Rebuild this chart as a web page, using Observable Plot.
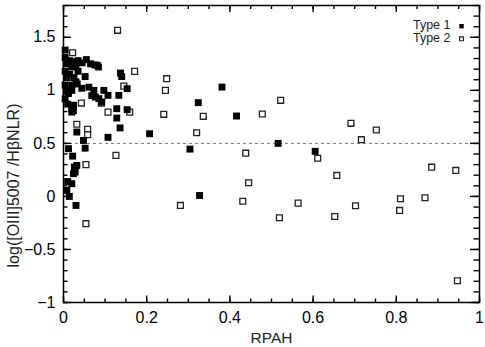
<!DOCTYPE html>
<html><head><meta charset="utf-8">
<script src="https://cdn.jsdelivr.net/npm/d3@7"></script>
<script src="https://cdn.jsdelivr.net/npm/@observablehq/plot@0.6"></script>
<style>
body{margin:0;background:#fff}
svg{font-family:"Liberation Sans",Arial,Helvetica,sans-serif}
</style>
</head><body><div id="chart"></div>
<script>
// Type 1 (filled squares): RPAH and log([OIII]5007/HβNLR)
const type1RPAH = [0.004,0.004,0.006,0.004,0.008,0.004,0.006,0.004,0.010,
  0.015,0.020,0.025,0.030,0.035,0.045,0.055,0.065,0.075,0.084,
  0.015,0.025,0.030,0.020,0.035,0.052,
  0.020,0.033,0.044,0.012,
  0.061,0.073,0.097,0.068,0.077,0.085,0.092,0.107,0.133,0.153,0.137,0.140,0.081,
  0.024,0.020,0.020,0.024,
  0.128,0.153,0.128,0.136,0.207,0.107,0.032,
  0.048,0.052,0.012,0.022,0.026,0.032,0.028,0.024,0.010,0.020,0.008,0.014,0.030,
  0.304,0.324,0.327,0.381,0.416,0.516,0.605];
const type1Ratio = [1.38,1.31,1.25,1.18,1.12,1.05,0.99,0.92,0.87,
  1.28,1.22,1.27,1.24,1.28,1.26,1.29,1.25,1.24,1.22,
  1.15,1.12,1.08,1.05,1.18,1.13,
  1.00,1.06,1.02,0.97,
  1.03,1.00,1.00,0.95,0.937,0.922,0.89,0.953,0.953,1.016,1.163,1.13,1.236,
  0.86,0.83,0.795,0.81,
  0.827,0.818,0.739,0.646,0.591,0.557,0.607,
  0.528,0.455,0.45,0.38,0.277,0.292,0.23,0.214,0.14,0.12,0.057,0.0,-0.085,
  0.446,0.884,0.009,1.031,0.758,0.50,0.425];
// Type 2 (open squares)
const type2RPAH = [0.022,0.130,0.171,0.248,0.245,0.145,0.043,0.091,0.159,0.107,0.241,
  0.032,0.058,0.058,0.126,0.054,0.054,0.281,
  0.336,0.478,0.522,0.320,0.438,0.611,0.691,0.716,0.752,0.657,0.445,0.431,
  0.564,0.519,0.652,0.702,0.810,0.808,0.869,0.885,0.943,0.947];
const type2Ratio = [1.355,1.566,1.179,1.110,1.0,1.04,0.88,0.88,0.795,0.795,0.774,
  0.68,0.632,0.582,0.387,0.30,-0.257,-0.085,
  0.755,0.777,0.906,0.60,0.408,0.36,0.689,0.535,0.626,0.198,0.129,-0.045,
  -0.063,-0.201,-0.189,-0.088,-0.022,-0.132,-0.012,0.276,0.245,-0.795];

const xMajor = [0,0.2,0.4,0.6,0.8,1];
const xMinor = d3.range(0,1.0001,0.05);
const yMajor = [-1,-0.5,0,0.5,1,1.5];
const yMinor = d3.range(-1,1.8001,0.1);
const xDomain = [0,1];
const yDomain = [-1,1.8];
const refLine = [0.5];
const legendLabels = ["Type 1","Type 2"];

const type1 = type1RPAH.map((x,i)=>({x, y:type1Ratio[i]}));
const type2 = type2RPAH.map((x,i)=>({x, y:type2Ratio[i]}));
const fmt = d => d === 0 ? "0" : String(d).replace("-","\u2212");

const W = 485, H = 347, mL = 63, mR = 6, mT = 5, mB = 45;
const FH = H - mT - mB, FW = W - mL - mR;
// pixel length -> data length along each axis (for inward tick rules)
const lenY = L => L * (yDomain[1]-yDomain[0]) / FH;
const lenX = L => L * (xDomain[1]-xDomain[0]) / FW;
const tickB = (t, L) => Plot.ruleX(t,{x:d=>d, y1:yDomain[0], y2:yDomain[0]+lenY(L), stroke:"black", strokeWidth:1.4});
const tickT = (t, L) => Plot.ruleX(t,{x:d=>d, y1:yDomain[1], y2:yDomain[1]-lenY(L), stroke:"black", strokeWidth:1.4});
const tickL = (t, L) => Plot.ruleY(t,{y:d=>d, x1:xDomain[0], x2:xDomain[0]+lenX(L), stroke:"black", strokeWidth:1.4});
const tickR = (t, L) => Plot.ruleY(t,{y:d=>d, x1:xDomain[1], x2:xDomain[1]-lenX(L), stroke:"black", strokeWidth:1.4});

const chart = Plot.plot({
  width:W, height:H,
  marginLeft:mL, marginRight:mR, marginTop:mT, marginBottom:mB,
  x:{domain:xDomain, axis:null},
  y:{domain:yDomain, axis:null},
  style:{fontFamily:'"Liberation Sans",Arial,sans-serif', fontSize:"16px", color:"black", background:"white"},
  marks:[
    Plot.ruleY(refLine,{stroke:"#777", strokeWidth:1, strokeDasharray:"3,3"}),
    tickB(xMinor,3.5), tickT(xMinor,4),
    tickL(yMinor,4.5), tickR(yMinor,5.5),
    tickB(xMajor,6.5), tickT(xMajor,7),
    tickL(yMajor,8), tickR(yMajor,9),
    // labels
    Plot.axisX(xMajor,{anchor:"bottom", tickSize:0, tickPadding:9, tickFormat:fmt, label:null, fontSize:16}),
    Plot.axisY(yMajor,{anchor:"left", tickSize:0, tickPadding:8, tickFormat:fmt, label:null, fontSize:16}),
    Plot.text(["RPAH"],{frameAnchor:"bottom", dy:36, textAnchor:"middle", lineAnchor:"middle", fontSize:15.5, fill:"#222"}),
    Plot.text(["log([OIII]5007 /H\u03b2NLR)"],{frameAnchor:"left", dx:-50, dy:31.5, rotate:-90, textAnchor:"middle", lineAnchor:"middle", fontSize:16, fill:"#222", letterSpacing:"2.1px"}),
    Plot.frame({stroke:"black", strokeWidth:1.5}),
    // data
    Plot.dot(type2,{x:"x", y:"y", symbol:"square", r:3.3, fill:"white", stroke:"#222", strokeWidth:1.3}),
    Plot.dot(type1,{x:"x", y:"y", symbol:"square", r:3.9, fill:"black", stroke:"none"}),
    // legend
    Plot.text([legendLabels[0]],{frameAnchor:"top-right", dx:-29, dy:19.5, textAnchor:"end", lineAnchor:"middle", fontSize:12.5, fill:"#222", letterSpacing:"0.9px"}),
    Plot.text([legendLabels[1]],{frameAnchor:"top-right", dx:-29, dy:32.5, textAnchor:"end", lineAnchor:"middle", fontSize:12.5, fill:"#222", letterSpacing:"0.9px"}),
    Plot.dot([legendLabels[0]],{frameAnchor:"top-right", dx:-18, dy:20.7, symbol:"square", r:2.5, fill:"black"}),
    Plot.dot([legendLabels[1]],{frameAnchor:"top-right", dx:-18, dy:33.3, symbol:"square", r:2.2, fill:"white", stroke:"#222", strokeWidth:1.2})
  ]
});
document.getElementById("chart").appendChild(chart);
</script>
</body></html>
